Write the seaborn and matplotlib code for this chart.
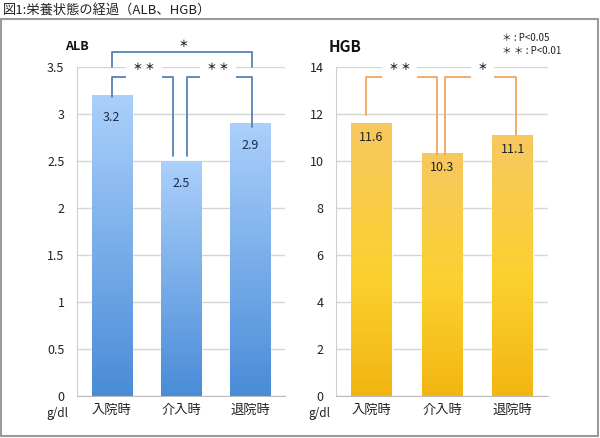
import numpy as np
import pandas as pd
import matplotlib.pyplot as plt
import seaborn as sns
from matplotlib.colors import LinearSegmentedColormap
from matplotlib.patches import Rectangle

# data
categories = ['入院時', '介入時', '退院時']
alb_values = [3.2, 2.5, 2.9]
hgb_values = [11.6, 10.3, 11.1]
alb_ticks = [0, 0.5, 1, 1.5, 2, 2.5, 3, 3.5]
hgb_ticks = [0, 2, 4, 6, 8, 10, 12, 14]
title = '図1:栄養状態の経過（ALB、HGB）'

sns.set_style('white')
plt.rcParams['font.family'] = ['Noto Sans CJK JP', 'DejaVu Sans']

fig = plt.figure(figsize=(6, 4.38), dpi=100)
ax1 = fig.add_axes([77 / 600, 42 / 438, 208 / 600, 329 / 438])
ax2 = fig.add_axes([336 / 600, 42 / 438, 212 / 600, 329 / 438])

blue_cmap = LinearSegmentedColormap.from_list('b', ['#4a8cd7', '#7aaeea', '#abd0fb'])
gold_cmap = LinearSegmentedColormap.from_list(
    'g', [(0, '#f3b512'), (0.45, '#fbd12f'), (1, '#f6c860')])


def draw_panel(ax, values, ticks, cmap, ylim, label_off, txt_color):
    df = pd.DataFrame({'cat': categories, 'val': values})
    sns.barplot(data=df, x='cat', y='val', ax=ax, width=0.58, color='#cccccc',
                saturation=1, zorder=2)
    grad = np.linspace(0, 1, 256).reshape(-1, 1)
    for p in ax.patches:
        x0 = p.get_x()
        w = p.get_width()
        h = p.get_height()
        ax.imshow(grad, cmap=cmap, origin='lower', aspect='auto',
                  extent=(x0, x0 + w, 0, h), zorder=3)
        ax.annotate(f'{h:g}', (x0 + w / 2, h), xytext=(0, label_off),
                    textcoords='offset points', ha='center', va='center',
                    fontsize=9, color=txt_color, zorder=5)
    ax.set_xlim(-0.5, 2.5)
    ax.set_ylim(*ylim)
    ax.set_yticks(ticks)
    ax.set_yticklabels([f'{t:g}' for t in ticks])
    ax.yaxis.grid(True, color='#d6d6d6', lw=1)
    ax.set_axisbelow(True)
    ax.tick_params(axis='both', length=0, labelsize=9, colors='#222222')
    ax.tick_params(axis='y', pad=9)
    ax.tick_params(axis='x', pad=6, labelsize=9.5)
    ax.set_xlabel('')
    ax.set_ylabel('')
    for s in ['top', 'right']:
        ax.spines[s].set_visible(False)
    ax.spines['left'].set_color('#cfcfcf')
    ax.spines['bottom'].set_color('#bdbdbd')


draw_panel(ax1, alb_values, alb_ticks, blue_cmap, (0, 3.5), -16, '#1d2b4a')
draw_panel(ax2, hgb_values, hgb_ticks, gold_cmap, (0, 14), -10, '#222222')

# significance brackets
blue_line = '#5581b8'
orange_line = '#f0a660'


def bracket(ax, xs, ys, color):
    ax.plot(xs, ys, color=color, lw=1.3, clip_on=False, zorder=4)


bracket(ax1, [0, 0, 2.02, 2.02], [3.5, 3.66, 3.66, 3.5], blue_line)
bracket(ax1, [0, 0, 0.89, 0.89], [3.18, 3.39, 3.39, 2.55], blue_line)
bracket(ax1, [1.09, 1.09, 2.02, 2.02], [2.55, 3.39, 3.39, 2.86], blue_line)
bracket(ax2, [-0.075, -0.075, 0.93, 0.93], [11.96, 13.57, 13.57, 10.26], orange_line)
bracket(ax2, [1.04, 1.04, 2.05, 2.05], [10.26, 13.57, 13.57, 11.1], orange_line)

star_box = dict(facecolor='white', edgecolor='none', pad=5)
for ax, x, y, s in [(ax1, 0.47, 3.5, '＊ ＊'), (ax1, 1.53, 3.5, '＊ ＊'),
                    (ax2, 0.40, 14, '＊ ＊'), (ax2, 1.57, 14, '＊')]:
    ax.text(x, y, s, ha='center', va='center', fontsize=7, color='#222222',
            fontweight='bold', bbox=star_box, zorder=6, clip_on=False)
ax1.text(1.03, 3.74, '＊', ha='center', va='center', fontsize=7,
         fontweight='bold', color='#222222')

# panel titles and units
fig.text(77 / 600, 1 - 47 / 438, 'ALB', ha='center', va='center',
         fontsize=9, fontweight='bold', color='#111111')
fig.text(345 / 600, 1 - 47 / 438, 'HGB', ha='center', va='center',
         fontsize=11, fontweight='bold', color='#111111')
fig.text(57 / 600, 1 - 413 / 438, 'g/dl', ha='center', va='center', fontsize=8.5, color='#222222')
fig.text(319 / 600, 1 - 413 / 438, 'g/dl', ha='center', va='center', fontsize=8.5, color='#222222')

# significance legend
fig.text(502 / 600, 1 - 38 / 438, '＊ : P<0.05', ha='left', va='center', fontsize=7, color='#222222')
fig.text(502 / 600, 1 - 51 / 438, '＊ ＊ : P<0.01', ha='left', va='center', fontsize=7, color='#222222')

# title and frame
fig.text(3 / 600, 1 - 10 / 438, title, ha='left', va='center', fontsize=9.5, color='#222222')
fig.patches.append(Rectangle((1 / 600, 2 / 438), 597 / 600, 417 / 438,
                             transform=fig.transFigure, fill=False,
                             edgecolor='#9a9a9a', lw=1.5))

fig.savefig('out.png', dpi=100)
